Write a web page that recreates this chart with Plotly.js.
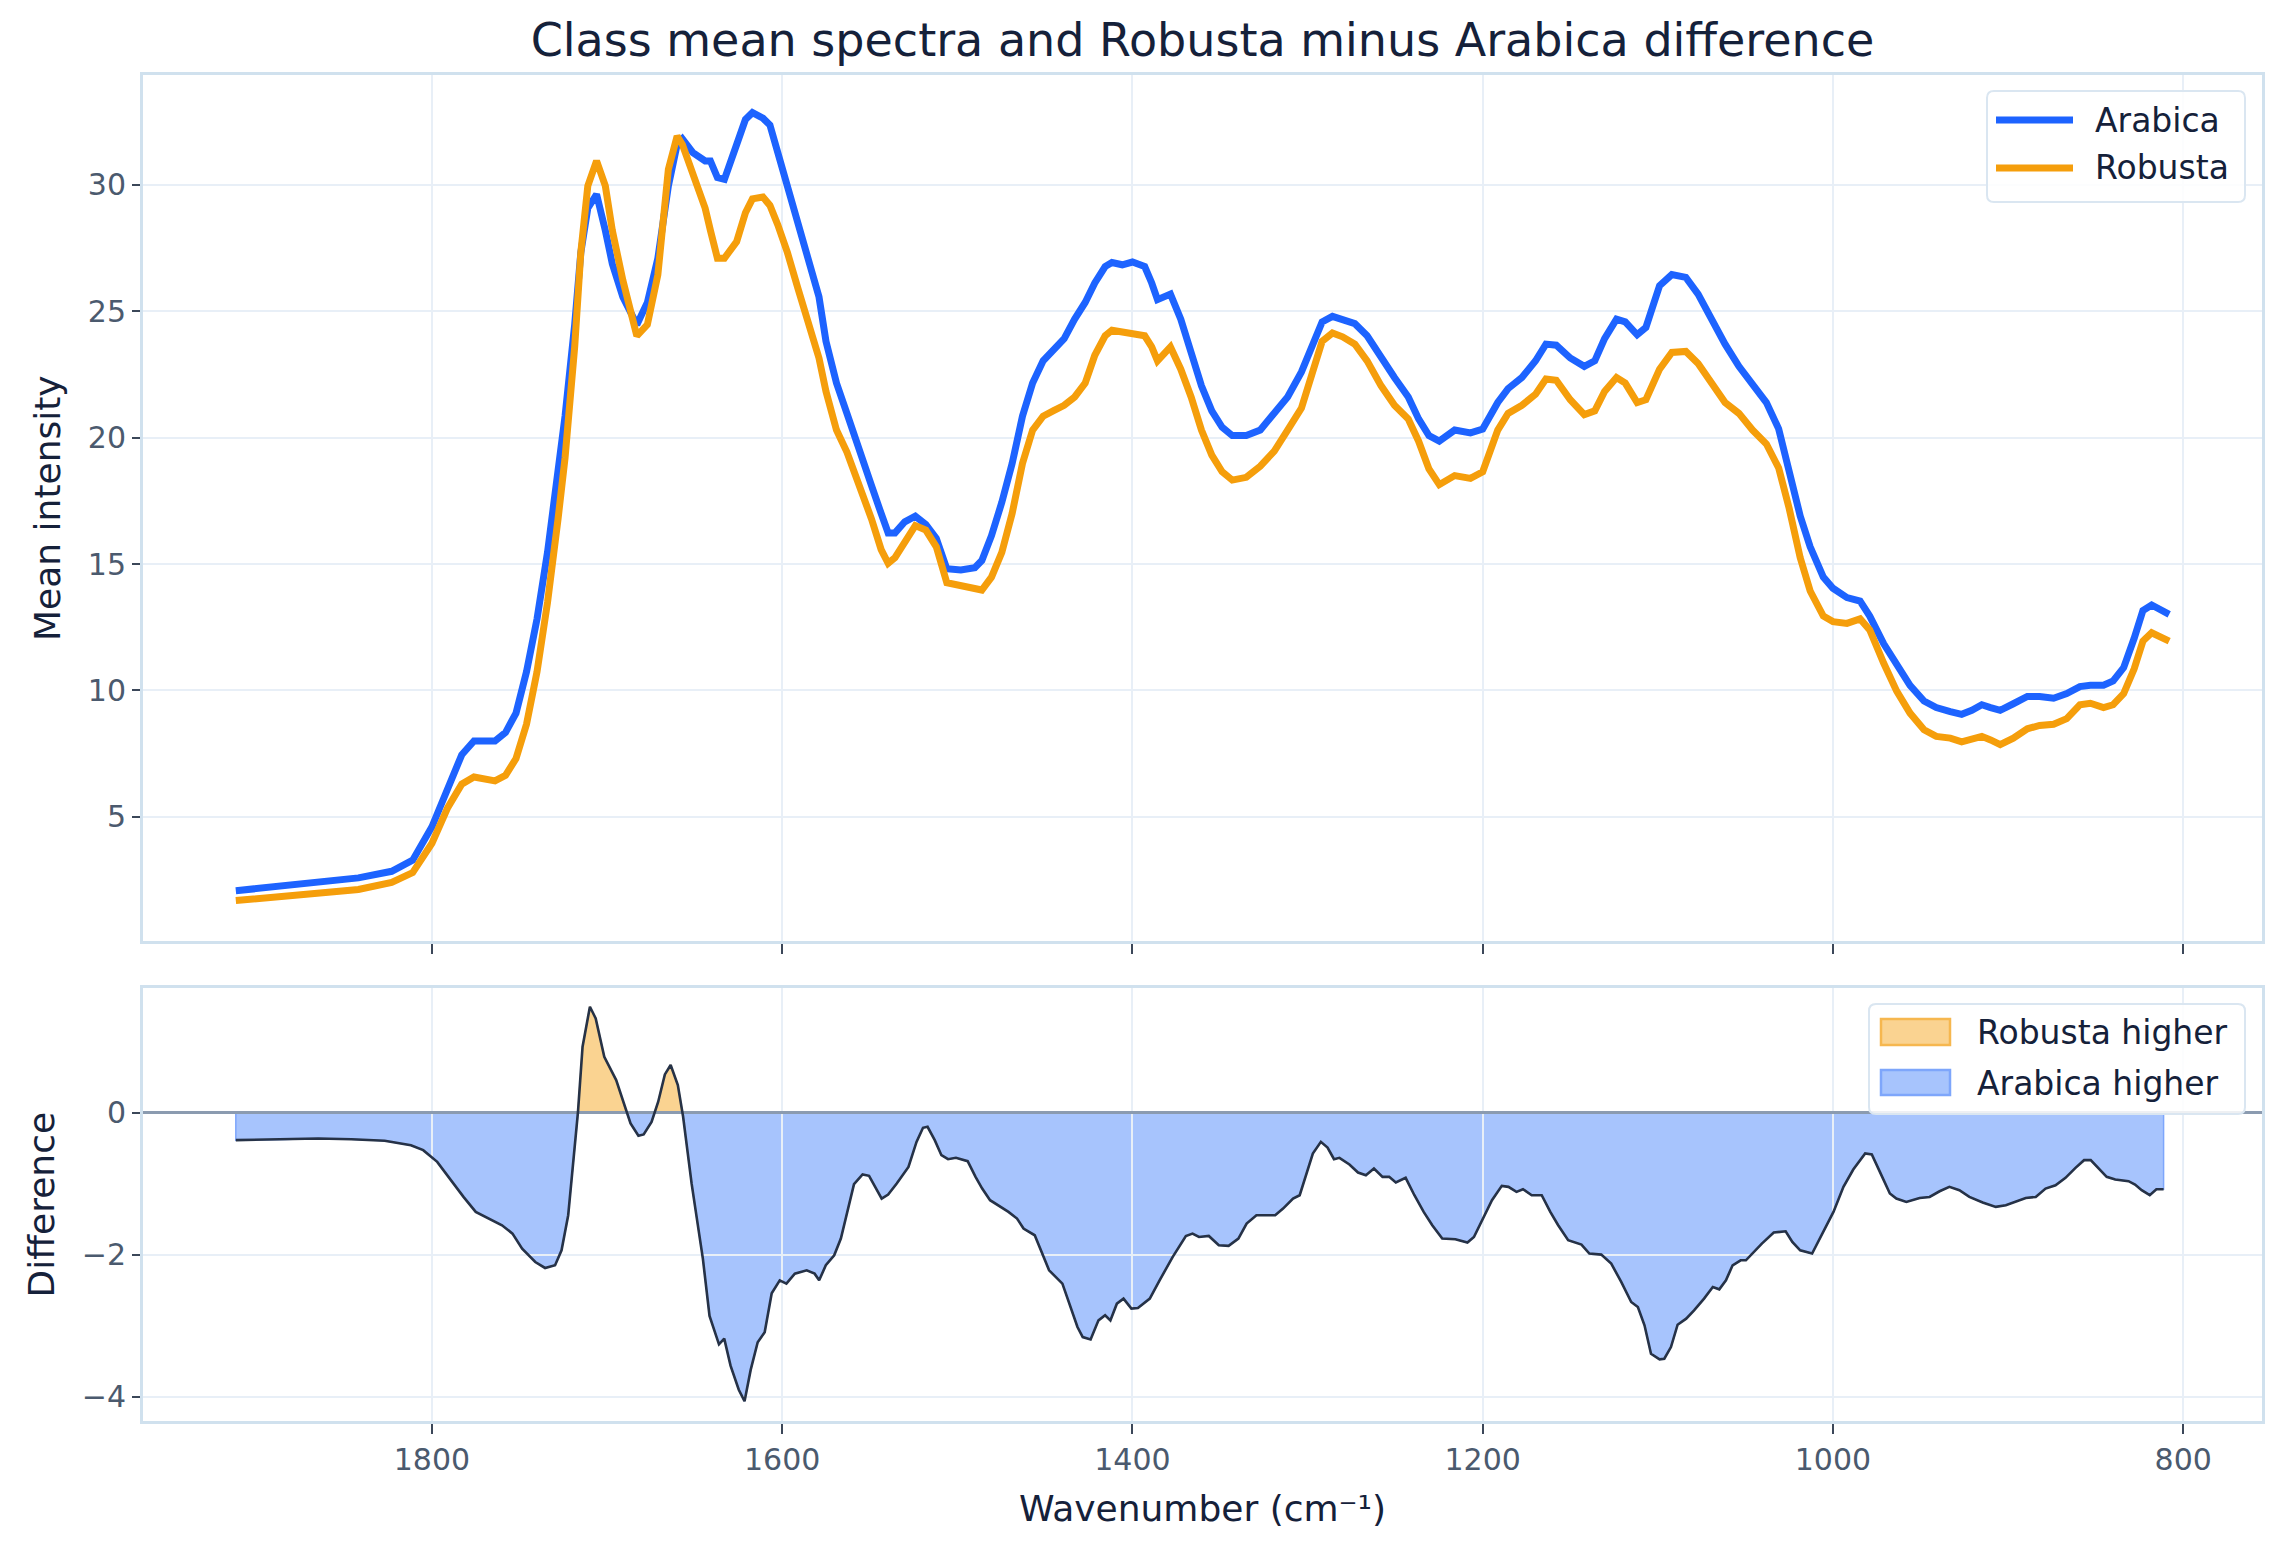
<!DOCTYPE html>
<html>
<head>
<meta charset="utf-8">
<script src="https://cdn.plot.ly/plotly-3.0.1.min.js"></script>
<style>
  html, body { margin: 0; padding: 0; background: #ffffff; }
  #chart { width: 2282px; height: 1553px; }
</style>
</head>
<body>
<div id="chart"></div>
<script>
// Class mean FTIR spectra (cm-1, descending)
const WAVENUMBER = [
  1912, 1862, 1842, 1823, 1811, 1800, 1791, 1783, 1776, 1764, 1758, 1752, 1746, 1740, 1734, 1728,
  1724, 1718.5, 1715, 1711, 1706, 1701, 1697, 1691, 1683, 1677, 1671, 1665, 1660, 1657, 1651, 1644,
  1641, 1637, 1633, 1626, 1621, 1617, 1611, 1607, 1602.5, 1597, 1591, 1585, 1579, 1575, 1569, 1563,
  1557, 1549, 1543.5, 1539.5, 1535.6, 1530, 1524, 1518, 1512, 1506, 1498, 1490, 1486, 1480.5, 1474.6, 1468.7,
  1462.8, 1457, 1451, 1445, 1439, 1433, 1427, 1421.5, 1415.6, 1411.7, 1405.8, 1400, 1393, 1389, 1385.7, 1378.3,
  1372.4, 1366.5, 1360.6, 1354.7, 1348.8, 1343, 1335, 1327, 1319, 1311.4, 1303.5, 1297.6, 1291.7, 1285.8, 1280, 1273,
  1266, 1258, 1250.4, 1242.5, 1236.6, 1230.7, 1224.8, 1216, 1207, 1200, 1191.4, 1185.5, 1177.6, 1169.8, 1163.9, 1158,
  1150, 1142, 1136, 1130.4, 1123.6, 1118.6, 1111.8, 1106.8, 1099, 1092, 1084, 1077, 1069.5, 1061.6, 1053.7, 1045.9,
  1038, 1031, 1025, 1018.7, 1013, 1005.5, 1000, 992, 984.5, 979, 971, 963.6, 956, 948, 941, 933,
  926.5, 920.7, 915, 910, 904.5, 897, 889, 882, 874, 866.5, 859, 853, 845.5, 840, 834, 828,
  823, 818, 813, 808
];

const ARABICA = [
  2.07, 2.40, 2.58, 2.84, 3.28, 4.60, 6.13, 7.45, 8.00, 8.00, 8.33, 9.10, 10.74, 12.83, 15.47, 18.54,
  20.85, 24.47, 27.32, 29.08, 29.63, 28.20, 26.88, 25.57, 24.47, 25.35, 27.10, 29.96, 31.60, 31.82, 31.28, 30.95,
  30.95, 30.29, 30.22, 31.60, 32.59, 32.86, 32.64, 32.37, 31.28, 30.07, 28.64, 27.21, 25.57, 23.81, 22.16, 20.95,
  19.64, 18.10, 17.00, 16.23, 16.23, 16.67, 16.89, 16.56, 16.01, 14.81, 14.76, 14.85, 15.14, 16.12, 17.44, 18.98,
  20.85, 22.16, 23.04, 23.48, 23.92, 24.69, 25.35, 26.12, 26.77, 26.93, 26.84, 26.95, 26.77, 26.12, 25.46, 25.68,
  24.69, 23.37, 22.05, 21.06, 20.41, 20.08, 20.08, 20.30, 20.95, 21.61, 22.60, 23.59, 24.58, 24.80, 24.64, 24.51,
  24.03, 23.15, 22.38, 21.61, 20.74, 20.08, 19.86, 20.30, 20.19, 20.34, 21.39, 21.94, 22.38, 23.04, 23.70, 23.66,
  23.15, 22.82, 23.04, 23.92, 24.69, 24.58, 24.07, 24.36, 26.01, 26.45, 26.34, 25.68, 24.69, 23.70, 22.82, 22.05,
  21.39, 20.35, 18.76, 16.90, 15.68, 14.48, 14.04, 13.67, 13.53, 12.94, 11.84, 11.07, 10.20, 9.58, 9.32, 9.16,
  9.05, 9.21, 9.43, 9.32, 9.21, 9.47, 9.76, 9.76, 9.69, 9.87, 10.15, 10.20, 10.20, 10.37, 10.90, 12.06,
  13.16, 13.38, 13.23, 13.01
];

const ROBUSTA = [
  1.68, 1.96, 2.12, 2.40, 2.79, 3.95, 5.36, 6.29, 6.57, 6.42, 6.64, 7.30, 8.66, 10.74, 13.49, 16.78,
  19.20, 23.59, 27.32, 29.96, 30.95, 29.96, 28.20, 26.23, 24.03, 24.47, 26.45, 30.62, 31.93, 31.60, 30.40, 29.08,
  28.20, 27.10, 27.10, 27.76, 28.90, 29.45, 29.52, 29.19, 28.42, 27.32, 25.90, 24.58, 23.15, 21.83, 20.30, 19.42,
  18.32, 16.78, 15.57, 15.03, 15.25, 15.90, 16.52, 16.34, 15.68, 14.26, 14.15, 14.04, 13.97, 14.48, 15.46, 17.00,
  18.98, 20.30, 20.85, 21.07, 21.28, 21.61, 22.16, 23.26, 24.03, 24.25, 24.20, 24.10, 24.03, 23.59, 23.04, 23.59,
  22.71, 21.61, 20.30, 19.31, 18.65, 18.32, 18.43, 18.87, 19.47, 20.30, 21.17, 22.49, 23.81, 24.14, 23.99, 23.70,
  23.04, 22.05, 21.28, 20.74, 19.86, 18.76, 18.14, 18.50, 18.39, 18.65, 20.30, 20.96, 21.28, 21.72, 22.32, 22.27,
  21.50, 20.91, 21.06, 21.83, 22.38, 22.16, 21.39, 21.50, 22.71, 23.37, 23.41, 22.93, 22.16, 21.39, 20.96, 20.30,
  19.75, 18.80, 17.20, 15.25, 13.93, 12.94, 12.72, 12.65, 12.83, 12.39, 11.07, 9.97, 9.10, 8.44, 8.18, 8.11,
  7.96, 8.04, 8.18, 8.04, 7.85, 8.11, 8.48, 8.61, 8.66, 8.88, 9.43, 9.49, 9.32, 9.43, 9.87, 10.85,
  11.95, 12.28, 12.12, 11.95
];

// Robusta minus Arabica
const DIFF_WAVENUMBER = [
  1912, 1884, 1865, 1846, 1827, 1812, 1805, 1797, 1790, 1782, 1775, 1767, 1760, 1754, 1748.5, 1741,
  1735.4, 1729.7, 1726, 1722.2, 1718.5, 1716.6, 1714, 1709.8, 1706.5, 1701.6, 1694.8, 1690.3, 1686.6, 1682.1, 1679.1, 1674.6,
  1670.8, 1667, 1663.7, 1659.6, 1656.6, 1651.7, 1645.3, 1641.5, 1636.1, 1633.1, 1629.5, 1624.8, 1621.5, 1618, 1614, 1610,
  1606, 1601.4, 1597.6, 1592.8, 1586, 1581.5, 1578.9, 1575.1, 1570.3, 1566.5, 1562.9, 1559, 1554.1, 1550.4, 1543.2, 1539.5,
  1534.6, 1527.9, 1523.3, 1519.6, 1517, 1512.9, 1509.1, 1505.3, 1500.8, 1494.1, 1489.6, 1485.8, 1481.3, 1475.3, 1470.8, 1465.9,
  1462.2, 1455.8, 1452, 1447.6, 1440, 1435.9, 1431.4, 1428.4, 1423.9, 1419.4, 1415.6, 1412.6, 1408.9, 1405.1, 1400.6, 1396.9,
  1390.1, 1384.5, 1377, 1369.5, 1365.7, 1362, 1356.4, 1350.7, 1345.1, 1339.5, 1334.8, 1329.2, 1318.5, 1314, 1308.3, 1304.5,
  1300.8, 1297, 1292.4, 1288.6, 1284.9, 1281.8, 1276.1, 1271.2, 1266.7, 1262.1, 1257.2, 1253.4, 1249.6, 1244, 1239, 1233.7,
  1228.8, 1223.1, 1215.6, 1208.7, 1205, 1200.4, 1194.7, 1189.1, 1185.3, 1180.7, 1177, 1172, 1166.3, 1161.4, 1156.9, 1151.2,
  1143.6, 1139.1, 1132.3, 1126.6, 1120.9, 1115.2, 1111.4, 1107.6, 1103.9, 1099, 1096.3, 1092.5, 1088.7, 1083.8, 1079.3, 1073.6,
  1068.6, 1064.9, 1061.1, 1057.3, 1052.7, 1049.7, 1045.2, 1040.6, 1033.8, 1027, 1023.2, 1018.7, 1011.9, 1006.2, 999.7, 994,
  988.4, 981.6, 977.8, 973.2, 967.5, 963.8, 958.1, 950.5, 944.8, 939.1, 933.5, 927.8, 922.1, 914.5, 907, 901.3,
  895.6, 889.9, 884.2, 878.6, 872.9, 867.2, 861.5, 856.6, 852.8, 848.3, 843.7, 838.8, 831.2, 827.5, 823.7, 819.1,
  815.3, 811.2
];

const DIFFERENCE = [
  -0.383, -0.374, -0.360, -0.370, -0.392, -0.454, -0.524, -0.689, -0.924, -1.182, -1.394, -1.488, -1.582, -1.700, -1.911, -2.100,
  -2.184, -2.146, -1.935, -1.441, -0.454, 0.020, 0.933, 1.497, 1.333, 0.792, 0.463, 0.110, -0.148, -0.322, -0.303, -0.125,
  0.158, 0.543, 0.675, 0.393, -0.050, -1.000, -2.052, -2.860, -3.260, -3.180, -3.560, -3.900, -4.060, -3.620, -3.230, -3.090,
  -2.540, -2.358, -2.405, -2.264, -2.217, -2.264, -2.358, -2.146, -2.005, -1.770, -1.394, -1.004, -0.867, -0.886, -1.206, -1.150,
  -0.994, -0.760, -0.407, -0.209, -0.195, -0.383, -0.595, -0.651, -0.632, -0.679, -0.900, -1.065, -1.229, -1.323, -1.394, -1.488,
  -1.629, -1.723, -1.958, -2.217, -2.405, -2.711, -3.016, -3.157, -3.190, -2.922, -2.851, -2.922, -2.687, -2.616, -2.757, -2.748,
  -2.616, -2.358, -2.028, -1.733, -1.700, -1.747, -1.733, -1.864, -1.873, -1.770, -1.558, -1.441, -1.441, -1.347, -1.206, -1.159,
  -0.877, -0.571, -0.407, -0.487, -0.651, -0.632, -0.726, -0.839, -0.877, -0.783, -0.900, -0.900, -0.980, -0.914, -1.159, -1.394,
  -1.582, -1.770, -1.779, -1.826, -1.747, -1.511, -1.229, -1.027, -1.041, -1.112, -1.074, -1.159, -1.159, -1.394, -1.582, -1.793,
  -1.854, -1.981, -1.996, -2.122, -2.381, -2.663, -2.734, -2.992, -3.392, -3.472, -3.463, -3.298, -2.983, -2.898, -2.781, -2.616,
  -2.452, -2.485, -2.358, -2.146, -2.076, -2.076, -1.958, -1.840, -1.685, -1.667, -1.817, -1.935, -1.981, -1.714, -1.394, -1.041,
  -0.797, -0.571, -0.585, -0.830, -1.135, -1.206, -1.253, -1.197, -1.183, -1.103, -1.041, -1.088, -1.183, -1.262, -1.323, -1.300,
  -1.244, -1.197, -1.183, -1.065, -1.018, -0.914, -0.773, -0.665, -0.665, -0.783, -0.900, -0.938, -0.961, -1.008, -1.088, -1.159,
  -1.074, -1.074
];

const X_TICKS = [1800, 1600, 1400, 1200, 1000, 800];
const SPECTRA_TICKS = [5, 10, 15, 20, 25, 30];
const DIFF_TICKS = [-4, -2, 0];

// ---- styling ----
const FONT = 'DejaVu Sans';
const INK = '#15213a';
const TICK_INK = '#4b5a6e';
const SPINE = '#d0e1ee';
const GRID = '#e8eff7';
const BLUE = '#1d63ff';
const AMBER = '#f59e0b';
const BLUE_FILL = '#a7c4fd';
const AMBER_FILL = '#fad391';
const BLUE_EDGE = '#7ea6fb';
const AMBER_EDGE = '#f6b74f';
const DIFF_LINE = '#263247';
const LINE_W = 7;

const W = 2282, H = 1553;
const PLOT_L = 143, PLOT_R = 2262, PLOT_T = 75, PLOT_B = 1421;
const TOP_PANEL_BOTTOM = 941.3, LOW_PANEL_TOP = 988.4;

const paperX = px => (px - PLOT_L) / (PLOT_R - PLOT_L);
const paperY = py => (PLOT_B - py) / (PLOT_B - PLOT_T);

// Split the difference curve into its positive and negative parts,
// inserting the zero crossings so each part closes cleanly on y = 0.
function splitBySign(xs, ys) {
  const pos = { x: [xs[0]], y: [0] };
  const neg = { x: [xs[0]], y: [0] };
  for (let i = 0; i < xs.length; i++) {
    if (i > 0 && (ys[i - 1] > 0) !== (ys[i] > 0)) {
      const t = ys[i - 1] / (ys[i - 1] - ys[i]);
      const xc = xs[i - 1] + (xs[i] - xs[i - 1]) * t;
      pos.x.push(xc); pos.y.push(0);
      neg.x.push(xc); neg.y.push(0);
    }
    pos.x.push(xs[i]); pos.y.push(Math.max(ys[i], 0));
    neg.x.push(xs[i]); neg.y.push(Math.min(ys[i], 0));
  }
  const last = xs[xs.length - 1];
  pos.x.push(last); pos.y.push(0);
  neg.x.push(last); neg.y.push(0);
  return { pos, neg };
}

// Rounded legend frame, given in pixel coordinates of the figure.
function roundedFrame(x0, y0, x1, y1, r) {
  const P = (x, y) => paperX(x).toFixed(5) + ',' + paperY(y).toFixed(5);
  return 'M' + P(x0 + r, y0) + ' L' + P(x1 - r, y0) + ' Q' + P(x1, y0) + ' ' + P(x1, y0 + r) +
         ' L' + P(x1, y1 - r) + ' Q' + P(x1, y1) + ' ' + P(x1 - r, y1) +
         ' L' + P(x0 + r, y1) + ' Q' + P(x0, y1) + ' ' + P(x0, y1 - r) +
         ' L' + P(x0, y0 + r) + ' Q' + P(x0, y0) + ' ' + P(x0 + r, y0) + ' Z';
}

const parts = splitBySign(DIFF_WAVENUMBER, DIFFERENCE);

const traces = [
  {
    x: WAVENUMBER, y: ARABICA, name: 'Arabica', type: 'scatter', mode: 'lines',
    line: { color: BLUE, width: LINE_W }, xaxis: 'x', yaxis: 'y', hoverinfo: 'skip'
  },
  {
    x: WAVENUMBER, y: ROBUSTA, name: 'Robusta', type: 'scatter', mode: 'lines',
    line: { color: AMBER, width: LINE_W }, xaxis: 'x', yaxis: 'y', hoverinfo: 'skip'
  },
  {
    x: parts.pos.x, y: parts.pos.y, name: 'Robusta higher', type: 'scatter', mode: 'lines',
    fill: 'toself', fillcolor: AMBER_FILL, line: { color: AMBER_EDGE, width: 1.5 },
    xaxis: 'x2', yaxis: 'y2', hoverinfo: 'skip'
  },
  {
    x: parts.neg.x, y: parts.neg.y, name: 'Arabica higher', type: 'scatter', mode: 'lines',
    fill: 'toself', fillcolor: BLUE_FILL, line: { color: BLUE_EDGE, width: 1.5 },
    xaxis: 'x2', yaxis: 'y2', hoverinfo: 'skip'
  },
  {
    x: DIFF_WAVENUMBER, y: DIFFERENCE, name: 'Robusta − Arabica', type: 'scatter', mode: 'lines',
    line: { color: DIFF_LINE, width: 2.6 }, xaxis: 'x3', yaxis: 'y3', hoverinfo: 'skip'
  }
];

const X_RANGE = [1965, 755];
const TOP_RANGE = [0.07, 34.35];
const DIFF_RANGE = [-4.34, 1.755];

const topDomain = [paperY(TOP_PANEL_BOTTOM), 1];
const lowDomain = [0, paperY(LOW_PANEL_TOP)];

const tickFont = { family: FONT, size: 30, color: TICK_INK };
const titleFont = { family: FONT, size: 36, color: INK };
const legendFont = { family: FONT, size: 33, color: INK };

const frameAxis = {
  showline: true, mirror: true, linecolor: SPINE, linewidth: 3,
  showgrid: true, gridcolor: GRID, gridwidth: 2,
  ticks: 'outside', ticklen: 10, tickwidth: 2, tickcolor: '#3b4759',
  tickfont: tickFont, zeroline: false, autorange: false
};

// Legend keys: line samples for the spectra, filled patches for the difference
const lineKey = (y, color) => ({
  type: 'line', xref: 'paper', yref: 'paper', layer: 'above',
  x0: paperX(1996), x1: paperX(2073), y0: paperY(y), y1: paperY(y),
  line: { color: color, width: LINE_W }
});
const patchKey = (yTop, yBottom, fill, edge) => ({
  type: 'rect', xref: 'paper', yref: 'paper', layer: 'above',
  x0: paperX(1881), x1: paperX(1950), y0: paperY(yBottom), y1: paperY(yTop),
  fillcolor: fill, line: { color: edge, width: 2.5 }
});
const keyLabel = (text, x, y) => ({
  text: text, xref: 'paper', yref: 'paper', x: paperX(x), y: paperY(y),
  xanchor: 'left', yanchor: 'middle', showarrow: false, font: legendFont
});
const frame = (x0, y0, x1, y1) => ({
  type: 'path', xref: 'paper', yref: 'paper', layer: 'above',
  path: roundedFrame(x0, y0, x1, y1, 7),
  fillcolor: 'rgba(255,255,255,0.85)', line: { color: '#dae6f1', width: 2 }
});

const layout = {
  width: W, height: H, autosize: false,
  paper_bgcolor: '#ffffff', plot_bgcolor: 'rgba(0,0,0,0)',
  margin: { l: PLOT_L, r: W - PLOT_R, t: PLOT_T, b: H - PLOT_B, pad: 0 },
  font: { family: FONT, color: INK },
  showlegend: false,
  title: {
    text: 'Class mean spectra and Robusta minus Arabica difference',
    font: { family: FONT, size: 46, color: INK },
    x: 0.5, xref: 'paper', xanchor: 'center',
    y: 1 - 40 / H, yref: 'container', yanchor: 'middle'
  },
  // upper panel
  xaxis: Object.assign({}, frameAxis, {
    domain: [0, 1], anchor: 'y', range: X_RANGE,
    tickmode: 'array', tickvals: X_TICKS, showticklabels: false
  }),
  yaxis: Object.assign({}, frameAxis, {
    domain: topDomain, anchor: 'x', range: TOP_RANGE, ticklen: 8,
    tickmode: 'array', tickvals: SPECTRA_TICKS,
    title: { text: 'Mean intensity', font: titleFont, standoff: 17 }
  }),
  // lower panel: filled areas (no axes of their own)
  xaxis2: { domain: [0, 1], anchor: 'y2', range: X_RANGE, autorange: false, visible: false },
  yaxis2: { domain: lowDomain, anchor: 'x2', range: DIFF_RANGE, autorange: false, visible: false },
  // lower panel: grid, zero line and difference curve drawn over the fills
  xaxis3: Object.assign({}, frameAxis, {
    domain: [0, 1], anchor: 'y3', range: X_RANGE,
    tickmode: 'array', tickvals: X_TICKS,
    title: { text: 'Wavenumber (cm\u207B\u00B9)', font: titleFont, standoff: 20 }
  }),
  yaxis3: Object.assign({}, frameAxis, {
    domain: lowDomain, anchor: 'x3', range: DIFF_RANGE, ticklen: 8,
    tickmode: 'array', tickvals: DIFF_TICKS,
    zeroline: true, zerolinecolor: '#8b9bb0', zerolinewidth: 3,
    title: { text: 'Difference', font: titleFont, standoff: 17 }
  }),
  shapes: [
    frame(1987, 91, 2245, 202),
    lineKey(120, BLUE),
    lineKey(168, AMBER),
    frame(1869, 1004, 2245, 1114),
    patchKey(1019, 1045, AMBER_FILL, AMBER_EDGE),
    patchKey(1070, 1095, BLUE_FILL, BLUE_EDGE)
  ],
  annotations: [
    keyLabel('Arabica', 2093, 120),
    keyLabel('Robusta', 2093, 168),
    keyLabel('Robusta higher', 1975, 1032),
    keyLabel('Arabica higher', 1975, 1083)
  ]
};

Plotly.newPlot('chart', traces, layout, { staticPlot: true, displayModeBar: false });
</script>
</body>
</html>
